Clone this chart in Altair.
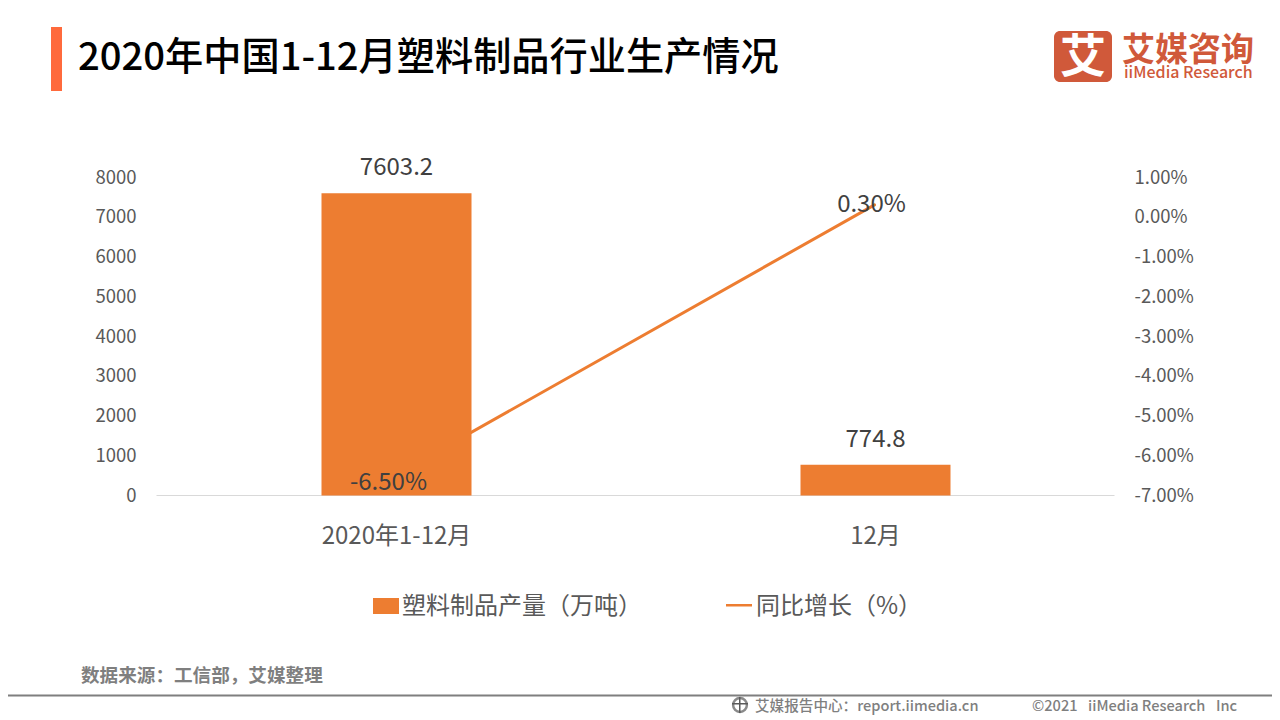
import altair as alt
import pandas as pd

categories = ["2020年1-12月", "12月"]
output_values = [7603.2, 774.8]
growth_values = [-0.065, 0.003]
left_ticks = [0, 1000, 2000, 3000, 4000, 5000, 6000, 7000, 8000]
right_ticks = [-0.07, -0.06, -0.05, -0.04, -0.03, -0.02, -0.01, 0.0, 0.01]

FONT = "Noto Sans CJK SC"
ORANGE = "#ED7D31"
df = pd.DataFrame({"cat": categories, "output": output_values, "growth": growth_values})
df["output_label"] = [f"{v:.1f}" for v in output_values]
df["growth_label"] = [f"{v:.2%}" for v in growth_values]

OX, OY = 156, 177  # page position of the plot origin
blank = alt.Data(values=[{"k": 1}])

x = alt.X("cat:N", sort=categories, title=None,
          scale=alt.Scale(type="band", paddingInner=0, paddingOuter=0),
          axis=alt.Axis(labelAngle=0, labelFontSize=24, labelColor="#595959", labelFont=FONT,
                        labelPadding=29, labelOffset=1, ticks=False, domainColor="#D9D9D9", domainWidth=1,
                        grid=False))
y_left = alt.Y("output:Q", title=None, scale=alt.Scale(domain=[0, 8000]),
               axis=alt.Axis(orient="left", values=left_ticks, format="d", labelFontSize=18.5,
                             labelColor="#595959", labelFont=FONT, labelPadding=20, ticks=False,
                             domain=False, grid=False))
y_right = alt.Y("growth:Q", title=None, scale=alt.Scale(domain=[-0.07, 0.01]),
                axis=alt.Axis(orient="right", values=right_ticks, labelFontSize=18.5,
                              labelExpr="replace(format(datum.value, '.2%'), '\u2212', '-')",
                              labelColor="#595959", labelFont=FONT, labelPadding=20, ticks=False,
                              domain=False, grid=False))

base = alt.Chart(df)
right_layers = alt.layer(
    base.mark_line(color=ORANGE, strokeWidth=3, strokeCap="round").encode(x=x, y=y_right),
)
left_layers = alt.layer(
    base.mark_bar(color=ORANGE, size=150, xOffset=1, yOffset=0.5).encode(x=x, y=y_left),
    base.mark_text(font=FONT, fontSize=24, color="#404040", dx=1, dy=-24.5, baseline="middle").encode(
        x=x, y=y_left, text="output_label:N"),
)
growth_y = alt.Y("growth:Q", axis=None, scale=alt.Scale(domain=[-0.07, 0.01]))
growth_text_a = alt.Chart(df.iloc[[0]]).mark_text(font=FONT, fontSize=24, color="#404040", baseline="middle",
                                                  dx=-7, dy=8).encode(
    x=x, y=growth_y, text="growth_label:N")
growth_text_b = alt.Chart(df.iloc[[1]]).mark_text(font=FONT, fontSize=24, color="#404040", baseline="middle",
                                                  dx=-3, dy=0).encode(
    x=x, y=growth_y, text="growth_label:N")


def label(text, px, py, size, color, weight="normal", align="left"):
    return alt.Chart(blank).mark_text(text=text, font=FONT, fontSize=size, color=color, fontWeight=weight,
                                      align=align, baseline="middle").encode(
        x=alt.value(px - OX), y=alt.value(py - OY))


def box(x0, x1, y0, y1, color, radius=0):
    return alt.Chart(blank).mark_rect(color=color, cornerRadius=radius).encode(
        x=alt.value(x0 - OX), x2=alt.value(x1 - OX), y=alt.value(y0 - OY), y2=alt.value(y1 - OY))


deco = [
    box(51, 62, 27, 91, "#FF6A3C"),
    label("2020年中国1-12月塑料制品行业生产情况", 78, 58.5, 38.2, "#000000", 500),
    box(1054, 1112, 31, 82, "#D0593A", 6),
    label("艾", 1083, 58, 46, "#FFFFFF", "bold", "center"),
    label("艾媒咨询", 1122, 50.5, 33, "#D0593A", "bold"),
    label("iiMedia Research", 1124, 73, 16, "#D0593A", 500),
    box(373, 399, 598, 614, ORANGE),
    label("塑料制品产量（万吨）", 402, 607, 24, "#595959"),
    box(726, 752, 604, 606.5, ORANGE),
    label("同比增长（%）", 756, 607, 24, "#595959"),
    label("数据来源：工信部，艾媒整理", 81, 676, 18.6, "#7F7F7F", "bold"),
    box(0, 1280, 694.5, 696.5, "#7F7F7F"),
    alt.Chart(blank).mark_point(shape="circle", size=190, filled=False, color="#595959", strokeWidth=2.5).encode(
        x=alt.value(740 - OX), y=alt.value(705 - OY)),
    box(732, 748, 703, 704.5, "#595959"),
    box(739, 740.5, 697, 713, "#595959"),
    label("艾媒报告中心：report.iimedia.cn", 755, 706.5, 14.6, "#7F7F7F", 500),
    label("©2021", 1032, 706.5, 14.6, "#7F7F7F", 500),
    label("iiMedia Research", 1088, 706.5, 14.6, "#7F7F7F", 500),
    label("Inc", 1216, 706.5, 14.6, "#7F7F7F", 500),
]

chart = alt.layer(right_layers, left_layers, growth_text_a, growth_text_b, *deco).resolve_scale(
    y="independent").properties(
    width=958, height=318,
    autosize=alt.AutoSizeParams(type="none"),
    padding={"left": 148, "top": 169, "right": 158, "bottom": 220},
    background="white",
).configure_view(stroke=None)

chart.save("out.html", embed_options={"renderer": "svg", "actions": False})
